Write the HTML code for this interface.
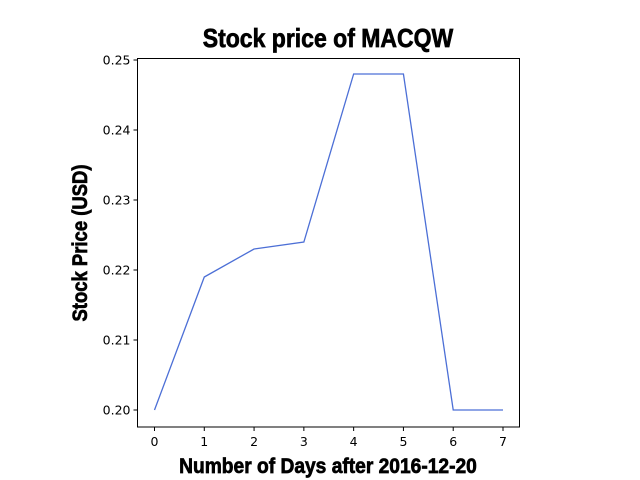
<!DOCTYPE html>
<html><head><meta charset="utf-8"><style>
body{margin:0;background:#fff;}
svg{display:block;font-family:"DejaVu Sans","Liberation Sans",sans-serif;}
.t{font-family:"Liberation Sans Narrow","Liberation Sans",sans-serif;font-weight:bold;font-stretch:condensed;stroke:#000;stroke-width:0.7;}
</style></head><body>
<svg id="chart" width="640" height="480">
<text class="t" x="328" y="47" text-anchor="middle" font-size="26" transform="translate(328,0) scale(0.885,1) translate(-328,0)">Stock price of MACQW</text>
<text class="t" x="328" y="473" text-anchor="middle" font-size="21" transform="translate(328,0) scale(0.915,1) translate(-328,0)">Number of Days after 2016-12-20</text>
<text class="t" x="0" y="0" text-anchor="middle" font-size="21" transform="translate(87,243) rotate(-90) scale(0.88,1)">Stock Price (USD)</text>
<g id="plot"></g>
</svg>
<script>
const days=[0,1,2,3,4,5,6,7];
const prices=[0.200,0.219,0.223,0.224,0.248,0.248,0.200,0.200];
const xTicks=[0,1,2,3,4,5,6,7];
const yTicks=[0.20,0.21,0.22,0.23,0.24,0.25];
const L=137.5,R=519.5,T=58.5,B=427;
const xs=d=>154.5+(d-0)*(503-154.5)/7;
const ys=v=>410-(v-0.20)*(410-60)/0.05;
const ns="http://www.w3.org/2000/svg";
const g=document.getElementById('plot');
function mk(t,a){const e=document.createElementNS(ns,t);for(const k in a)e.setAttribute(k,a[k]);g.appendChild(e);return e;}
const frame=mk('rect',{x:L,y:T,width:R-L,height:B-T,fill:'none',stroke:'#000','stroke-width':1});


xTicks.forEach(t=>{
  const l=mk('line',{x1:xs(t),x2:xs(t),y1:B,y2:B+4,stroke:'#000'});
  
  
  const tx=mk('text',{x:xs(t),y:B+19,'text-anchor':'middle','font-size':12.5});
  tx.textContent=t;
  
  
});
yTicks.forEach(t=>{
  const l=mk('line',{x1:L-4,x2:L,y1:ys(t),y2:ys(t),stroke:'#000'});
  
  
  const tx=mk('text',{x:L-7,y:ys(t)+4.5,'text-anchor':'end','font-size':12.5});
  tx.textContent=t.toFixed(2);
  
  
});
const pts=days.map((d,i)=>xs(d)+','+ys(prices[i])).join(' ');
const line=mk('polyline',{points:pts,fill:'none',stroke:'#4c6fd6','stroke-width':1.3});


</script>
</body></html>
